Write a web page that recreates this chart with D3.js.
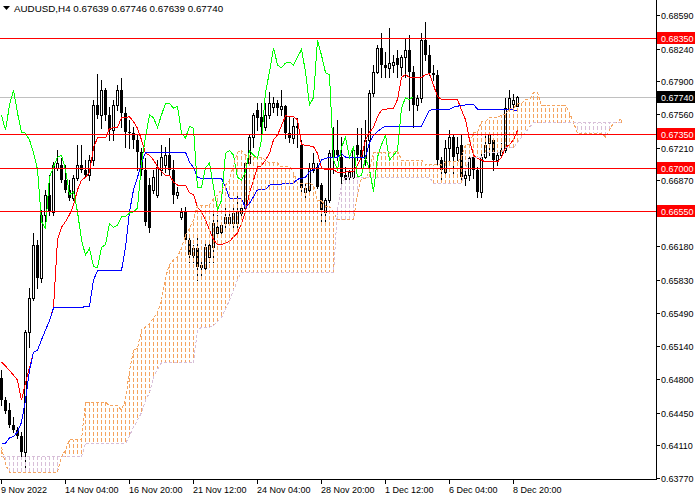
<!DOCTYPE html>
<html>
<head>
<meta charset="utf-8">
<script src="https://cdn.jsdelivr.net/npm/d3@7/dist/d3.min.js"></script>
<style>
body{margin:0;background:#fff;}
svg text{font-family:"Liberation Sans",Arial,sans-serif;font-size:9px;fill:#000;}
</style>
</head>
<body>
<svg id="chart" width="700" height="500"></svg>
<script>

// AUDUSD H4 candles, bar 0 = 9 Nov 2022 12:00
var opens = [0.6481,0.6458,0.6448,0.6432,0.6427,0.6421,0.6404,0.6529,0.6564,0.6620,
0.6585,0.6651,0.6672,0.6654,0.6700,0.6703,0.6687,0.6677,0.6668,0.6689,
0.6703,0.6698,0.6692,0.6708,0.6765,0.6755,0.6781,0.6755,0.6739,0.6765,
0.6781,0.6757,0.6737,0.6736,0.6729,0.6716,0.6698,0.6682,0.6677,0.6672,
0.6698,0.6703,0.6713,0.6698,0.6672,0.6649,0.6654,0.6625,0.6609,0.6616,
0.6599,0.6596,0.6607,0.6617,0.6632,0.6633,0.6642,0.6642,0.6642,0.6642,
0.6653,0.6658,0.6705,0.6732,0.6760,0.6753,0.6742,0.6755,0.6763,0.6767,
0.6761,0.6764,0.6736,0.6731,0.6743,0.6724,0.6675,0.6677,0.6698,0.6701,
0.6682,0.6654,0.6666,0.6711,0.6718,0.6711,0.6692,0.6690,0.6690,0.6724,
0.6718,0.6710,0.6729,0.6778,0.6800,0.6825,0.6807,0.6804,0.6807,0.6814,
0.6805,0.6815,0.6823,0.6800,0.6765,0.6773,0.6833,0.6817,0.6799,0.6797,
0.6708,0.6696,0.6721,0.6732,0.6715,0.6724,0.6689,0.6692,0.6711,0.6698,
0.6675,0.6711,0.6726,0.6729,0.6708,0.6713,0.6718,0.6762,0.6766,0.67639]

var highs = [0.6489,0.6461,0.6455,0.6441,0.6430,0.6425,0.6531,0.6575,0.6632,0.6625,
0.6656,0.6677,0.6692,0.6706,0.6718,0.6710,0.6703,0.6687,0.6692,0.6724,
0.6724,0.6708,0.6713,0.6771,0.6798,0.6791,0.6783,0.6763,0.6771,0.6786,
0.6793,0.6763,0.6750,0.6742,0.6734,0.6721,0.6710,0.6689,0.6698,0.6708,
0.6724,0.6722,0.6731,0.6708,0.6680,0.6658,0.6659,0.6627,0.6620,0.6627,
0.6602,0.6622,0.6625,0.6653,0.6651,0.6644,0.6659,0.6654,0.6659,0.6672,
0.6661,0.6706,0.6734,0.6757,0.6767,0.6767,0.6767,0.6779,0.6774,0.6771,
0.6781,0.6765,0.6753,0.6752,0.6752,0.6729,0.6684,0.6705,0.6715,0.6705,
0.6684,0.6668,0.6718,0.6742,0.6750,0.6732,0.6701,0.6698,0.6722,0.6741,
0.6741,0.6750,0.6781,0.6807,0.6828,0.6840,0.6820,0.6845,0.6817,0.6823,
0.6817,0.6835,0.6838,0.6806,0.6776,0.6840,0.6852,0.6828,0.6807,0.6802,
0.6711,0.6729,0.6739,0.6734,0.6732,0.6734,0.6698,0.6711,0.6715,0.6701,
0.6715,0.6736,0.6736,0.6731,0.6718,0.6726,0.6773,0.6781,0.6777,0.67746]

var lows = [0.6453,0.6445,0.6430,0.6425,0.6419,0.6398,0.6387,0.6513,0.6562,0.6575,
0.6581,0.6644,0.6651,0.6651,0.6698,0.6685,0.6675,0.6666,0.6666,0.6687,
0.6696,0.6690,0.6687,0.6703,0.6752,0.6741,0.6750,0.6729,0.6729,0.6760,
0.6742,0.6722,0.6721,0.6721,0.6698,0.6692,0.6640,0.6633,0.6674,0.6670,
0.6692,0.6696,0.6692,0.6663,0.6668,0.6647,0.6623,0.6602,0.6602,0.6583,
0.6586,0.6594,0.6602,0.6602,0.6628,0.6630,0.6638,0.6640,0.6638,0.6638,
0.6651,0.6656,0.6703,0.6722,0.6739,0.6736,0.6739,0.6752,0.6758,0.6755,
0.6755,0.6731,0.6727,0.6726,0.6722,0.6672,0.6670,0.6674,0.6696,0.6679,
0.6644,0.6642,0.6664,0.6695,0.6708,0.6684,0.6685,0.6687,0.6689,0.6708,
0.6701,0.6703,0.6698,0.6775,0.6799,0.6794,0.6794,0.6794,0.6800,0.6794,
0.6797,0.6794,0.6760,0.6742,0.6760,0.6768,0.6812,0.6797,0.6791,0.6703,
0.6687,0.6692,0.6708,0.6690,0.6708,0.6687,0.6682,0.6687,0.6689,0.6670,
0.6670,0.6710,0.6713,0.6698,0.6703,0.6711,0.6716,0.6760,0.6763,0.67639]

var closes = [0.6458,0.6447,0.6432,0.6427,0.6421,0.6404,0.6529,0.6564,0.6620,0.6585,
0.6651,0.6672,0.6654,0.6703,0.6705,0.6687,0.6677,0.6668,0.6689,0.6703,
0.6698,0.6692,0.6708,0.6765,0.6755,0.6781,0.6755,0.6739,0.6765,0.6781,
0.6757,0.6737,0.6736,0.6729,0.6716,0.6698,0.6644,0.6637,0.6690,0.6701,
0.6711,0.6713,0.6698,0.6672,0.6675,0.6654,0.6625,0.6609,0.6616,0.6597,
0.6596,0.6617,0.6620,0.6642,0.6638,0.6640,0.6649,0.6649,0.6653,0.6654,
0.6658,0.6705,0.6732,0.6755,0.6752,0.6742,0.6755,0.6767,0.6767,0.6762,
0.6764,0.6736,0.6731,0.6743,0.6741,0.6679,0.6679,0.6700,0.6705,0.6680,
0.6656,0.6666,0.6715,0.6718,0.6713,0.6690,0.6687,0.6696,0.6718,0.6713,
0.6710,0.6729,0.6778,0.6800,0.6825,0.6807,0.6804,0.6809,0.6810,0.6807,
0.6815,0.6823,0.6800,0.6765,0.6773,0.6833,0.6817,0.6799,0.6797,0.6708,
0.6698,0.6721,0.6732,0.6711,0.6722,0.6690,0.6692,0.6710,0.6698,0.6675,
0.6711,0.6724,0.6734,0.6708,0.6713,0.6718,0.6762,0.6773,0.6771,0.67740]

// tenkan / kijun as [bar, price]
var tenkan = [[0,0.6498],[2,0.6489],[3,0.6484],[4,0.6479],[5,0.6458],[6,0.6476],[7,0.6492],[8,0.6508],[9,0.6510],[10,0.6521],[11,0.6531],[12,0.6541],[13,0.6554],[14,0.6625],[15,0.6638],[16,0.6644],[17,0.6651],[18,0.6661],[19,0.6677],[20,0.6687],[21,0.6690],[22,0.6695],[23,0.6721],[24,0.6731],[26,0.6731],[27,0.6741],[29,0.6742],[30,0.6752],[32,0.6753],[33,0.6748],[34,0.6741],[35,0.6729],[36,0.6715],[37,0.6713],[38,0.6708],[39,0.6701],[40,0.6696],[41,0.6692],[42,0.6692],[43,0.6685],[44,0.6682],[46,0.6682],[47,0.6674],[48,0.6672],[49,0.6659],[50,0.6654],[51,0.6646],[52,0.6635],[53,0.6625],[54,0.6620],[55,0.6620],[56,0.6622],[57,0.6623],[58,0.6628],[59,0.6632],[60,0.6642],[61,0.6654],[62,0.6674],[63,0.6687],[64,0.6701],[65,0.6702],[66,0.6708],[67,0.6715],[68,0.6729],[69,0.6734],[70,0.6744],[71,0.6754],[73,0.6753],[74,0.6750],[75,0.6724],[78,0.6722],[79,0.6715],[80,0.6700],[81,0.6698],[83,0.6698],[84,0.6695],[88,0.6696],[89,0.6703],[90,0.6711],[91,0.6729],[92,0.6737],[93,0.6742],[94,0.6753],[95,0.6760],[96,0.6761],[98,0.6762],[99,0.6771],[100,0.6794],[101,0.6797],[102,0.6794],[105,0.6794],[106,0.6797],[107,0.6798],[108,0.6786],[109,0.6774],[110,0.6771],[114,0.6771],[115,0.6760],[116,0.6750],[117,0.6729],[118,0.6713],[119,0.6710],[120,0.6708],[121,0.6706],[124,0.6706],[125,0.6711],[126,0.6721],[127,0.6724],[128,0.6729],[129,0.6739]]

var kijun = [[0,0.6413],[1,0.6413],[2,0.6419],[3,0.6420],[4,0.6425],[5,0.6435],[6,0.6458],[7,0.6489],[8,0.6508],[9,0.6510],[10,0.6521],[11,0.6531],[12,0.6541],[13,0.6554],[19,0.6554],[22,0.6556],[23,0.6583],[24,0.6593],[30,0.6593],[31,0.6617],[32,0.6654],[33,0.6677],[34,0.6690],[35,0.6705],[36,0.6716],[46,0.6716],[47,0.6706],[48,0.6700],[49,0.6690],[50,0.6689],[55,0.6689],[56,0.6680],[57,0.6668],[60,0.6668],[61,0.6658],[62,0.6663],[63,0.6670],[64,0.6677],[66,0.6677],[67,0.6682],[73,0.6684],[74,0.6688],[76,0.6690],[77,0.6696],[79,0.6700],[80,0.6708],[81,0.6710],[84,0.6711],[85,0.6715],[86,0.6711],[91,0.6711],[92,0.6726],[93,0.6734],[95,0.6741],[96,0.6743],[105,0.6743],[106,0.6752],[107,0.6760],[112,0.6761],[113,0.6763],[115,0.6765],[118,0.6766],[119,0.6761],[129,0.6760]]

// senkou spans, one value per bar (bars 0..155, cloud runs 26 bars past the last candle)
var spanA = [0.6409,0.6391,0.6383,0.6383,0.6383,0.6383,0.6383,0.6383,0.6383,0.6383,
0.6383,0.6383,0.6383,0.6383,0.6383,0.6399,0.6406,0.6417,0.6417,0.6417,
0.6417,0.6456,0.6456,0.6456,0.6456,0.6456,0.6456,0.6452,0.6452,0.6452,
0.6448,0.6458,0.6489,0.6510,0.6512,0.6531,0.6534,0.6538,0.6544,0.6549,
0.6562,0.6586,0.6599,0.6604,0.6607,0.6617,0.6630,0.6637,0.6646,0.6661,
0.6661,0.6661,0.6661,0.6668,0.6672,0.6677,0.6682,0.6687,0.6703,0.6716,
0.6718,0.6713,0.6713,0.6711,0.6711,0.6711,0.6708,0.6705,0.6705,0.6705,
0.6701,0.6701,0.6701,0.6695,0.6684,0.6684,0.6684,0.6684,0.6682,0.6666,
0.6666,0.6660,0.6660,0.6654,0.6646,0.6646,0.6646,0.6646,0.6646,0.6672,
0.6689,0.6689,0.6696,0.6716,0.6716,0.6716,0.6716,0.6716,0.6716,0.6718,
0.6708,0.6708,0.6708,0.6708,0.6708,0.6708,0.6703,0.6703,0.6703,0.6703,
0.6703,0.6706,0.6706,0.6706,0.6706,0.6711,0.6724,0.6724,0.6737,0.6737,
0.6748,0.6748,0.6752,0.6752,0.6752,0.6755,0.6755,0.6762,0.6762,0.6767,
0.6767,0.6771,0.6771,0.6778,0.6778,0.6765,0.6765,0.6765,0.6765,0.6765,
0.6765,0.6765,0.6757,0.6747,0.6736,0.6736,0.6736,0.6736,0.6736,0.6736,
0.6736,0.6732,0.6739,0.6747,0.6747,0.6752]

var spanB = [0.6399,0.6399,0.6399,0.6399,0.6399,0.6399,0.6399,0.6399,0.6399,0.6399,
0.6399,0.6399,0.6399,0.6399,0.6399,0.6399,0.6399,0.6399,0.6399,0.6399,
0.6399,0.6413,0.6413,0.6413,0.6413,0.6413,0.6413,0.6413,0.6413,0.6413,
0.6413,0.6413,0.6421,0.6430,0.6437,0.6445,0.6458,0.6466,0.6482,0.6490,
0.6497,0.6497,0.6497,0.6497,0.6497,0.6497,0.6497,0.6497,0.6497,0.6531,
0.6534,0.6534,0.6534,0.6536,0.6540,0.6544,0.6553,0.6562,0.6572,0.6583,
0.6591,0.6591,0.6591,0.6591,0.6591,0.6591,0.6591,0.6591,0.6591,0.6591,
0.6591,0.6591,0.6591,0.6591,0.6591,0.6591,0.6591,0.6591,0.6591,0.6591,
0.6591,0.6591,0.6591,0.6591,0.6656,0.6682,0.6690,0.6690,0.6690,0.6690,
0.6690,0.6690,0.6690,0.6690,0.6690,0.6690,0.6690,0.6690,0.6690,0.6690,
0.6690,0.6690,0.6690,0.6690,0.6690,0.6690,0.6690,0.6690,0.6684,0.6684,
0.6684,0.6684,0.6684,0.6684,0.6684,0.6684,0.6698,0.6711,0.6711,0.6711,
0.6711,0.6716,0.6716,0.6716,0.6716,0.6716,0.6721,0.6721,0.6721,0.6726,
0.6732,0.6737,0.6742,0.6747,0.6747,0.6747,0.6747,0.6747,0.6747,0.6747,
0.6747,0.6747,0.6747,0.6747,0.6747,0.6747,0.6747,0.6747,0.6747,0.6747,
0.6747,0.6747,0.6747,0.6747,0.6747,0.6747]

var chikouShift = 26

// price axis and time axis
var yTicks = [0.68590,0.68240,0.67900,0.67560,0.67210,0.66870,0.66530,0.66180,0.65830,0.65490,0.65140,0.64800,0.64450,0.64110,0.63770]
var timeTickBars = [0,16,32,48,64,80,96,112,128]
var timeTickLabels = ["9 Nov 2022","14 Nov 04:00","16 Nov 20:00","21 Nov 12:00","24 Nov 04:00","28 Nov 20:00","1 Dec 12:00","6 Dec 04:00","8 Dec 20:00"]

var levels = [0.68350,0.67350,0.67000,0.66550]
var lastPrice = 0.67740
var title = "AUDUSD,H4  0.67639 0.67746 0.67639 0.67740"

var plotW = 656, plotH = 479

var svg = d3.select("#chart")

var x = d3.scaleLinear().domain([0, 1]).range([1.5, 5.5])
var y = d3.scaleLinear().domain([0.6377, 0.6859]).range([478, 15])
var fmt = d3.format(".5f")
function py(p){ return Math.round(y(p)) + 0.5 }

var plot = svg.append("g")

// bid line
plot.append("line")
    .attr("x1", 0).attr("x2", plotW)
    .attr("y1", py(lastPrice)).attr("y2", py(lastPrice))
    .style("stroke", "#c0c0c0").style("stroke-width", "1px")

//insert the candles
var bars = d3.range(opens.length)
var candles = plot.append("g").attr("shape-rendering", "crispEdges")

candles.selectAll("line.wick")
    .data(bars).enter()
    .append("line").attr("class", "wick")
    .attr("x1", d => x(d)).attr("x2", d => x(d))
    .attr("y1", d => Math.round(y(highs[d])))
    .attr("y2", d => Math.round(y(lows[d])) + 1)
    .style("stroke", "black").style("stroke-width", "1px")

candles.selectAll("rect.body")
    .data(bars).enter()
    .append("rect").attr("class", "body")
    .attr("x", d => closes[d] > opens[d] ? x(d) - 1 : x(d) - 1.5)
    .attr("y", d => {
        var t = Math.round(y(Math.max(opens[d], closes[d])))
        return closes[d] > opens[d] ? t + 0.5 : t
    })
    .attr("width", d => closes[d] > opens[d] ? 2 : 3)
    .attr("height", d => {
        var h = Math.round(y(Math.min(opens[d], closes[d]))) - Math.round(y(Math.max(opens[d], closes[d])))
        return closes[d] > opens[d] ? Math.max(h, 0) : Math.max(h, 1)
    })
    .attr("fill", d => closes[d] > opens[d] ? "white" : "black")
    .style("stroke", d => closes[d] > opens[d] ? "black" : "none")
    .style("stroke-width", "1px")

var line = d3.line()
function pts(arr){ return arr.map(d => [x(d[0]), y(d[1])]) }

// tenkan & kijun
plot.append("path").attr("d", line(pts(tenkan)))
    .attr("fill", "none").style("stroke", "#ff0000").style("stroke-width", "1px")
    .attr("shape-rendering", "crispEdges")
plot.append("path").attr("d", line(pts(kijun)))
    .attr("fill", "none").style("stroke", "#0000ff").style("stroke-width", "1px")
    .attr("shape-rendering", "crispEdges")

// cloud: each bar is a dotted column (4px dash, 2px gap) between the two spans
var dashes = []
d3.range(spanA.length).forEach(i => {
    var top = Math.round(y(Math.max(spanA[i], spanB[i])))
    var bot = Math.round(y(Math.min(spanA[i], spanB[i])))
    var color = spanA[i] > spanB[i] ? "#f4a460" : "#d8bfd8"
    for (var s = top - (top % 6); s < bot; s += 6) {
        var a = Math.max(s, top), b = Math.min(s + 4, bot)
        if (b > a) dashes.push({i: i, y0: a, y1: b, c: color})
    }
})
plot.append("g").attr("shape-rendering", "crispEdges")
    .selectAll("rect")
    .data(dashes).enter()
    .append("rect")
    .attr("x", d => x(d.i) - 0.5).attr("width", 1)
    .attr("y", d => d.y0).attr("height", d => d.y1 - d.y0)
    .attr("fill", d => d.c)

// chikou = closes drawn 26 bars back
var chikou = closes.slice(chikouShift).map((c, i) => [i, c])
plot.append("path").attr("d", line(pts(chikou)))
    .attr("fill", "none").style("stroke", "#00ff00").style("stroke-width", "1px")
    .attr("shape-rendering", "crispEdges")

// span borders
plot.append("path").attr("d", line(pts(spanA.map((v, i) => [i, v]))))
    .attr("fill", "none").style("stroke", "#f4a460").style("stroke-width", "1px")
    .style("stroke-dasharray", "3,2").attr("shape-rendering", "crispEdges")
plot.append("path").attr("d", line(pts(spanB.map((v, i) => [i, v]))))
    .attr("fill", "none").style("stroke", "#d8bfd8").style("stroke-width", "1px")
    .style("stroke-dasharray", "3,2").attr("shape-rendering", "crispEdges")

// horizontal levels
plot.selectAll("line.level")
    .data(levels).enter()
    .append("line").attr("class", "level")
    .attr("x1", 0).attr("x2", plotW)
    .attr("y1", d => py(d)).attr("y2", d => py(d))
    .style("stroke", "#ff0000").style("stroke-width", "1px")

// axes frame
var axis = svg.append("g").attr("shape-rendering", "crispEdges")
axis.append("line").attr("x1", plotW + 0.5).attr("x2", plotW + 0.5).attr("y1", 0).attr("y2", plotH + 1)
    .style("stroke", "black").style("stroke-width", "1px")
axis.append("line").attr("x1", 0).attr("x2", plotW + 1).attr("y1", plotH + 0.5).attr("y2", plotH + 0.5)
    .style("stroke", "black").style("stroke-width", "1px")

// price ticks
axis.selectAll("line.ytick")
    .data(yTicks).enter()
    .append("line").attr("class", "ytick")
    .attr("x1", plotW).attr("x2", plotW + 4)
    .attr("y1", d => py(d)).attr("y2", d => py(d))
    .style("stroke", "black")
svg.selectAll("text.ylab")
    .data(yTicks).enter()
    .append("text").attr("class", "ylab")
    .attr("x", plotW + 5).attr("y", d => Math.round(y(d)) + 3.5)
    .text(d => fmt(d))

// time ticks
axis.selectAll("line.xtick")
    .data(timeTickBars).enter()
    .append("line").attr("class", "xtick")
    .attr("x1", d => x(d)).attr("x2", d => x(d))
    .attr("y1", plotH).attr("y2", plotH + 5)
    .style("stroke", "black")
svg.selectAll("text.xlab")
    .data(timeTickBars).enter()
    .append("text").attr("class", "xlab")
    .attr("x", d => x(d) - 0.5).attr("y", 493)
    .text((d, i) => timeTickLabels[i])

// level tags on the price scale
var tags = levels.map(d => ({p: d, bg: "#ff0000"})).concat([{p: lastPrice, bg: "#000000"}])
var tag = svg.selectAll("g.tag").data(tags).enter().append("g").attr("class", "tag")
tag.append("rect")
    .attr("x", plotW + 1).attr("y", d => Math.round(y(d.p)) - 6)
    .attr("width", 38).attr("height", 12)
    .attr("fill", d => d.bg)
tag.append("text")
    .attr("x", plotW + 5).attr("y", d => Math.round(y(d.p)) + 3.5)
    .style("fill", "white")
    .text(d => fmt(d.p))

// header
svg.append("path").attr("d", "M3,6 L10,6 L6.5,10 Z").attr("fill", "black")
svg.append("text").attr("x", 14).attr("y", 12).style("font-size", "9.8px").text(title)

</script>
</body>
</html>
